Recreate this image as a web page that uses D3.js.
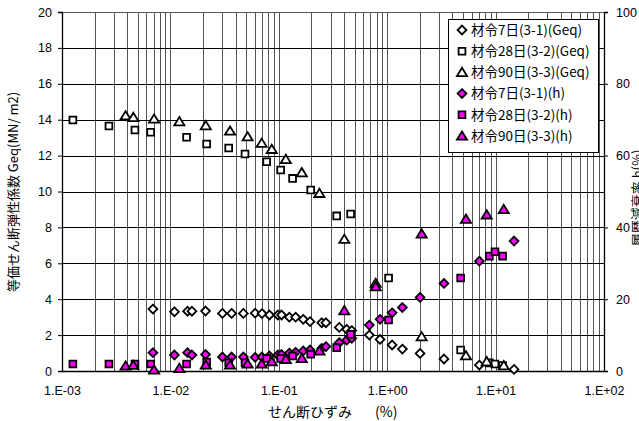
<!DOCTYPE html>
<html>
<head>
<meta charset="utf-8">
<script src="https://cdn.jsdelivr.net/npm/d3@7"></script>
<style>
  body { margin: 0; background: #fff; }
  text { font-family: "Liberation Sans", "Noto Sans CJK JP", sans-serif; fill: #000; }
  .jp { font-family: "Noto Sans CJK JP", sans-serif; }
</style>
</head>
<body>
<div id="app"></div>
<script>
// 材令7日 (3-1)
let strain7 = [0.0069, 0.0109, 0.0144, 0.0158, 0.0211, 0.0302, 0.0367, 0.0471, 0.0605, 0.0700,
  0.0820, 0.0980, 0.106, 0.125, 0.143, 0.168, 0.194, 0.249, 0.272, 0.361,
  0.423, 0.471, 0.684, 0.859, 1.11, 1.38, 2.01, 3.34, 7.08, 14.8];
let geq7 = [3.45, 3.30, 3.33, 3.33, 3.34, 3.21, 3.21, 3.21, 3.22, 3.20,
  3.12, 3.12, 3.12, 3.0, 3.0, 2.88, 2.75, 2.69, 2.69, 2.43,
  2.32, 2.25, 2.0, 1.76, 1.45, 1.22, 0.98, 0.67, 0.33, 0.09];
let h7 = [5.1, 4.45, 5.1, 4.45, 4.6, 3.9, 3.9, 3.9, 3.8, 3.9,
  4.2, 4.45, 4.6, 5.0, 5.2, 5.6, 5.85, 6.3, 6.8, 7.9,
  8.6, 9.1, 12.8, 14.4, 16.2, 17.7, 20.5, 24.4, 30.6, 36.2];

// 材令28日 (3-2)
let strain28 = [0.00126, 0.00271, 0.00471, 0.00658, 0.0141, 0.0216, 0.0345, 0.0488, 0.0773, 0.104,
  0.134, 0.197, 0.342, 0.460, 1.03, 4.76, 8.75, 9.87, 11.6];
let geq28 = [13.98, 13.65, 13.43, 13.30, 13.02, 12.65, 12.42, 12.09, 11.66, 11.20,
  10.73, 10.08, 8.64, 8.75, 5.18, 1.17, 0.45, 0.39, 0.30];
let h28 = [1.95, 1.95, 1.95, 1.95, 1.95, 2.5, 2.3, 2.3, 3.5, 3.5,
  4.2, 4.7, 6.5, 10.2, 14.2, 25.9, 32.0, 33.2, 32.0];

// 材令90日 (3-3)
let strain90 = [0.00386, 0.00455, 0.00707, 0.0121, 0.0212, 0.0355, 0.0516, 0.0695, 0.0861, 0.116,
  0.163, 0.237, 0.402, 0.783, 2.08, 5.33, 8.28, 11.9];
let geq90 = [14.22, 14.13, 14.04, 13.89, 13.67, 13.37, 13.05, 12.69, 12.35, 11.79,
  11.05, 9.90, 7.34, 4.89, 1.91, 0.85, 0.52, 0.30];
let h90 = [1.4, 1.6, 0.3, 0.75, 1.67, 1.67, 1.95, 1.95, 2.6, 3.25,
  3.5, 5.6, 16.8, 23.5, 38.2, 42.3, 43.5, 45.0];

let xTicks = [1e-3, 1e-2, 1e-1, 1e0, 1e1, 1e2];
let geqTicks = [0, 2, 4, 6, 8, 10, 12, 14, 16, 18, 20];
let hTicks = [0, 20, 40, 60, 80, 100];

let width = 639, height = 421;
let plotLeft = 62, plotRight = 604, plotTop = 12, plotBottom = 371;

const x = d3.scaleLog().domain([1e-3, 1e2]).range([plotLeft, plotRight]);
const y = d3.scaleLinear().domain([0, 20]).range([plotBottom, plotTop]);
const y2 = d3.scaleLinear().domain([0, 100]).range([plotBottom, plotTop]);

const svg = d3.select("#app").append("svg")
  .attr("width", width).attr("height", height);

// vertical grid (log minor + major)
let vLines = [];
for (let e = -3; e < 2; e++) {
  for (let m = 1; m <= 9; m++) vLines.push(m * Math.pow(10, e));
}
vLines.push(100);
svg.append("g").selectAll("line").data(vLines).join("line")
  .attr("x1", d => Math.round(x(d)) + 0.5).attr("x2", d => Math.round(x(d)) + 0.5)
  .attr("y1", plotTop).attr("y2", plotBottom)
  .attr("stroke", "#555").attr("stroke-width", 1);

// horizontal grid
svg.append("g").selectAll("line").data(geqTicks).join("line")
  .attr("x1", plotLeft).attr("x2", plotRight)
  .attr("y1", d => Math.round(y(d)) + 0.5).attr("y2", d => Math.round(y(d)) + 0.5)
  .attr("stroke", d => d === 20 ? "#555" : "#000").attr("stroke-width", 1);

// axes
function fmtExp(d) {
  let e = Math.round(Math.log10(d));
  return "1.E" + (e < 0 ? "-" : "+") + String(Math.abs(e)).padStart(2, "0");
}
let gx = svg.append("g").attr("transform", `translate(0,${plotBottom})`)
  .call(d3.axisBottom(x).tickValues(xTicks).tickFormat(fmtExp).tickSize(0).tickPadding(15));
let gy = svg.append("g").attr("transform", `translate(${plotLeft},0)`)
  .call(d3.axisLeft(y).tickValues(geqTicks).tickSize(4).tickPadding(6));
let gy2 = svg.append("g").attr("transform", `translate(${plotRight},0)`)
  .call(d3.axisRight(y2).tickValues(hTicks).tickSize(4).tickPadding(8));
[gx, gy, gy2].forEach(g => {
  g.selectAll(".domain").attr("stroke", "#000").attr("stroke-width", 1.3);
  g.selectAll("line").attr("stroke", "#000");
  g.selectAll("text").attr("font-size", 12.5).style("font-family", "'Liberation Sans', sans-serif");
});

// markers
function diamond(s) { return `M0,${-s}L${s},0L0,${s}L${-s},0Z`; }
function square(s) { return `M${-s},${-s}H${s}V${s}H${-s}Z`; }
function triangle(s) { return `M0,${-s}L${s * 1.1},${s * 0.8}L${-s * 1.1},${s * 0.8}Z`; }

let series = [
  { name: "材令7日(3-1)(Geq)", xs: strain7, ys: geq7, sc: y, shape: diamond(4.4), fill: "#fff" },
  { name: "材令28日(3-2)(Geq)", xs: strain28, ys: geq28, sc: y, shape: square(3.4), fill: "#fff" },
  { name: "材令90日(3-3)(Geq)", xs: strain90, ys: geq90, sc: y, shape: triangle(4.6), fill: "#fff" },
  { name: "材令7日(3-1)(h)", xs: strain7, ys: h7, sc: y2, shape: diamond(4.4), fill: "#ff00ff" },
  { name: "材令28日(3-2)(h)", xs: strain28, ys: h28, sc: y2, shape: square(3.4), fill: "#ff00ff" },
  { name: "材令90日(3-3)(h)", xs: strain90, ys: h90, sc: y2, shape: triangle(4.6), fill: "#ff00ff" }
];

series.forEach(s => {
  svg.append("g").selectAll("path").data(s.xs.map((v, i) => [v, s.ys[i]])).join("path")
    .attr("d", s.shape)
    .attr("transform", d => `translate(${x(d[0])},${s.sc(d[1])})`)
    .attr("fill", s.fill).attr("stroke", "#000").attr("stroke-width", 1.8);
});

// legend
let lg = svg.append("g");
lg.append("rect").attr("x", 448.5).attr("y", 19.5).attr("width", 150).attr("height", 133)
  .attr("fill", "#fff").attr("stroke", "#000").attr("stroke-width", 1);
series.forEach((s, i) => {
  let cy = 30 + i * 21.2;
  lg.append("path").attr("d", s.shape).attr("transform", `translate(462,${cy})`)
    .attr("fill", s.fill).attr("stroke", "#000").attr("stroke-width", 1.8);
  lg.append("text").attr("class", "jp").attr("x", 471).attr("y", cy + 4.8)
    .attr("font-size", 13.5)
    .text(s.name);
});

// axis titles
svg.append("text").attr("class", "jp")
  .attr("transform", `translate(18,${192}) rotate(-90)`)
  .attr("text-anchor", "middle").attr("font-size", 13)
  .text("等価せん断弾性係数 Geq(MN/ m2)");
svg.append("text").attr("class", "jp")
  .attr("transform", `translate(642,${198}) rotate(-90)`)
  .attr("text-anchor", "middle").attr("font-size", 13)
  .text("履歴減衰率 h(%)");
svg.append("text").attr("class", "jp").attr("x", 268).attr("y", 417)
  .attr("font-size", 14).text("せん断ひずみ");
svg.append("text").attr("class", "jp").attr("x", 375).attr("y", 417)
  .attr("font-size", 14).text("(%)");
</script>
</body>
</html>
